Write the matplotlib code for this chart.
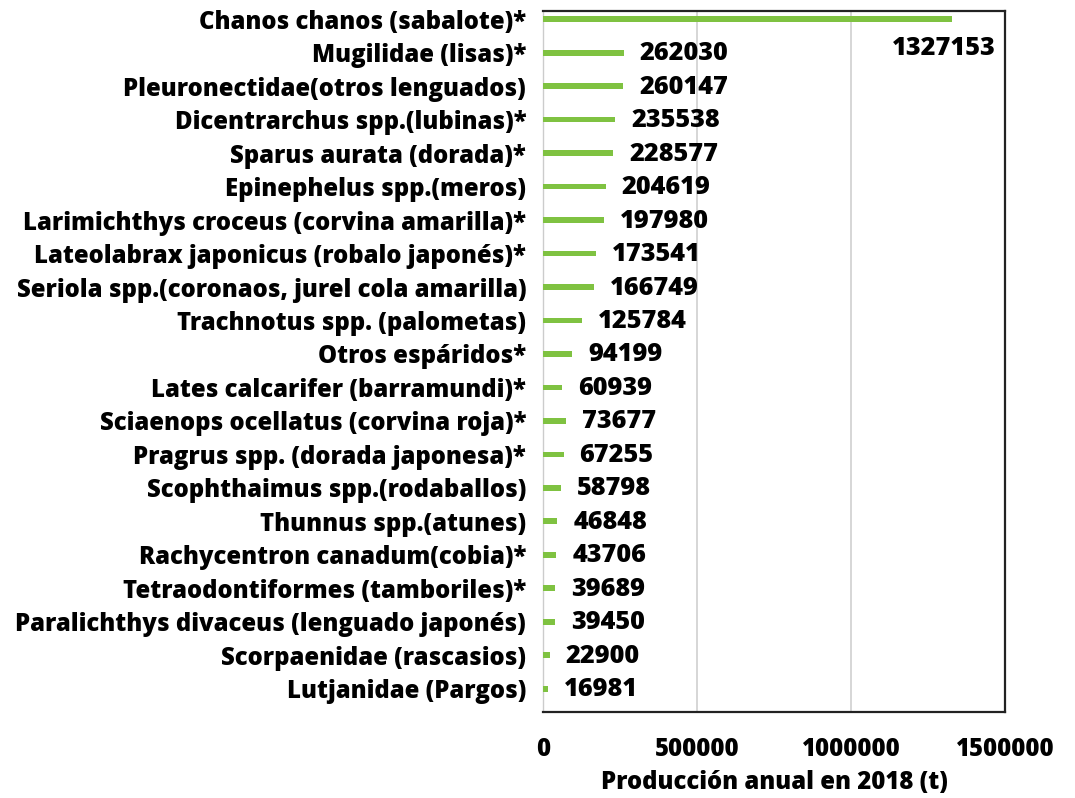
import matplotlib
matplotlib.use("Agg")
import matplotlib.pyplot as plt

categories = [
    "Chanos chanos (sabalote)*",
    "Mugilidae (lisas)*",
    "Pleuronectidae(otros lenguados)",
    "Dicentrarchus spp.(lubinas)*",
    "Sparus aurata (dorada)*",
    "Epinephelus spp.(meros)",
    "Larimichthys croceus (corvina amarilla)*",
    "Lateolabrax japonicus (robalo japonés)*",
    "Seriola spp.(coronaos, jurel cola amarilla)",
    "Trachnotus spp. (palometas)",
    "Otros espáridos*",
    "Lates calcarifer (barramundi)*",
    "Sciaenops ocellatus (corvina roja)*",
    "Pragrus spp. (dorada japonesa)*",
    "Scophthaimus spp.(rodaballos)",
    "Thunnus spp.(atunes)",
    "Rachycentron canadum(cobia)*",
    "Tetraodontiformes (tamboriles)*",
    "Paralichthys divaceus (lenguado japonés)",
    "Scorpaenidae (rascasios)",
    "Lutjanidae (Pargos)",
]
values = [1327153, 262030, 260147, 235538, 228577, 204619, 197980, 173541,
          166749, 125784, 94199, 60939, 73677, 67255, 58798, 46848, 43706,
          39689, 39450, 22900, 16981]
xticks = [0, 500000, 1000000, 1500000]
xlabel = "Producción anual en 2018 (t)"

plt.rcParams['font.family'] = ['Open Sans', 'DejaVu Sans']
FS = 17.2
FSV = 18.2
FW = 'extra bold'

fig = plt.figure(figsize=(10.75, 7.98), dpi=100)
ax = fig.add_axes([0.505, 0.108, 0.43, 0.878])

ypos = list(range(len(categories)))
ax.barh(ypos, values, height=0.17, color="#7fc241", zorder=3)
ax.set_xlim(0, 1500000)
ax.set_ylim(20.69, -0.24)
ax.set_yticks(ypos)
ax.set_yticklabels(categories, fontsize=FS, fontweight=FW)
ax.set_xticks(xticks)
ax.set_xticklabels([str(t) for t in xticks], fontsize=FS, fontweight=FW)
ax.tick_params(axis='both', length=0)
ax.tick_params(axis='x', pad=18)
ax.tick_params(axis='y', pad=12)
ax.set_xlabel(xlabel, fontsize=FS, fontweight=FW, labelpad=6)
ax.grid(axis='x', color='#d0d0d0', linewidth=1.2, zorder=0)
for s in ['top', 'right', 'bottom']:
    ax.spines[s].set_color('#222222')
    ax.spines[s].set_linewidth(1.6)
ax.spines['left'].set_color('#cccccc')
ax.spines['left'].set_linewidth(1.0)

for i, v in enumerate(values):
    if i == 0:
        ax.annotate(str(v), (v, i), xytext=(-8, -29), textcoords='offset pixels',
                    ha='center', va='center', fontsize=FSV, fontweight=FW)
    else:
        ax.annotate(str(v), (v, i), xytext=(16, -1), textcoords='offset pixels',
                    ha='left', va='center', fontsize=FSV, fontweight=FW)

fig.savefig("out.png", dpi=100)
